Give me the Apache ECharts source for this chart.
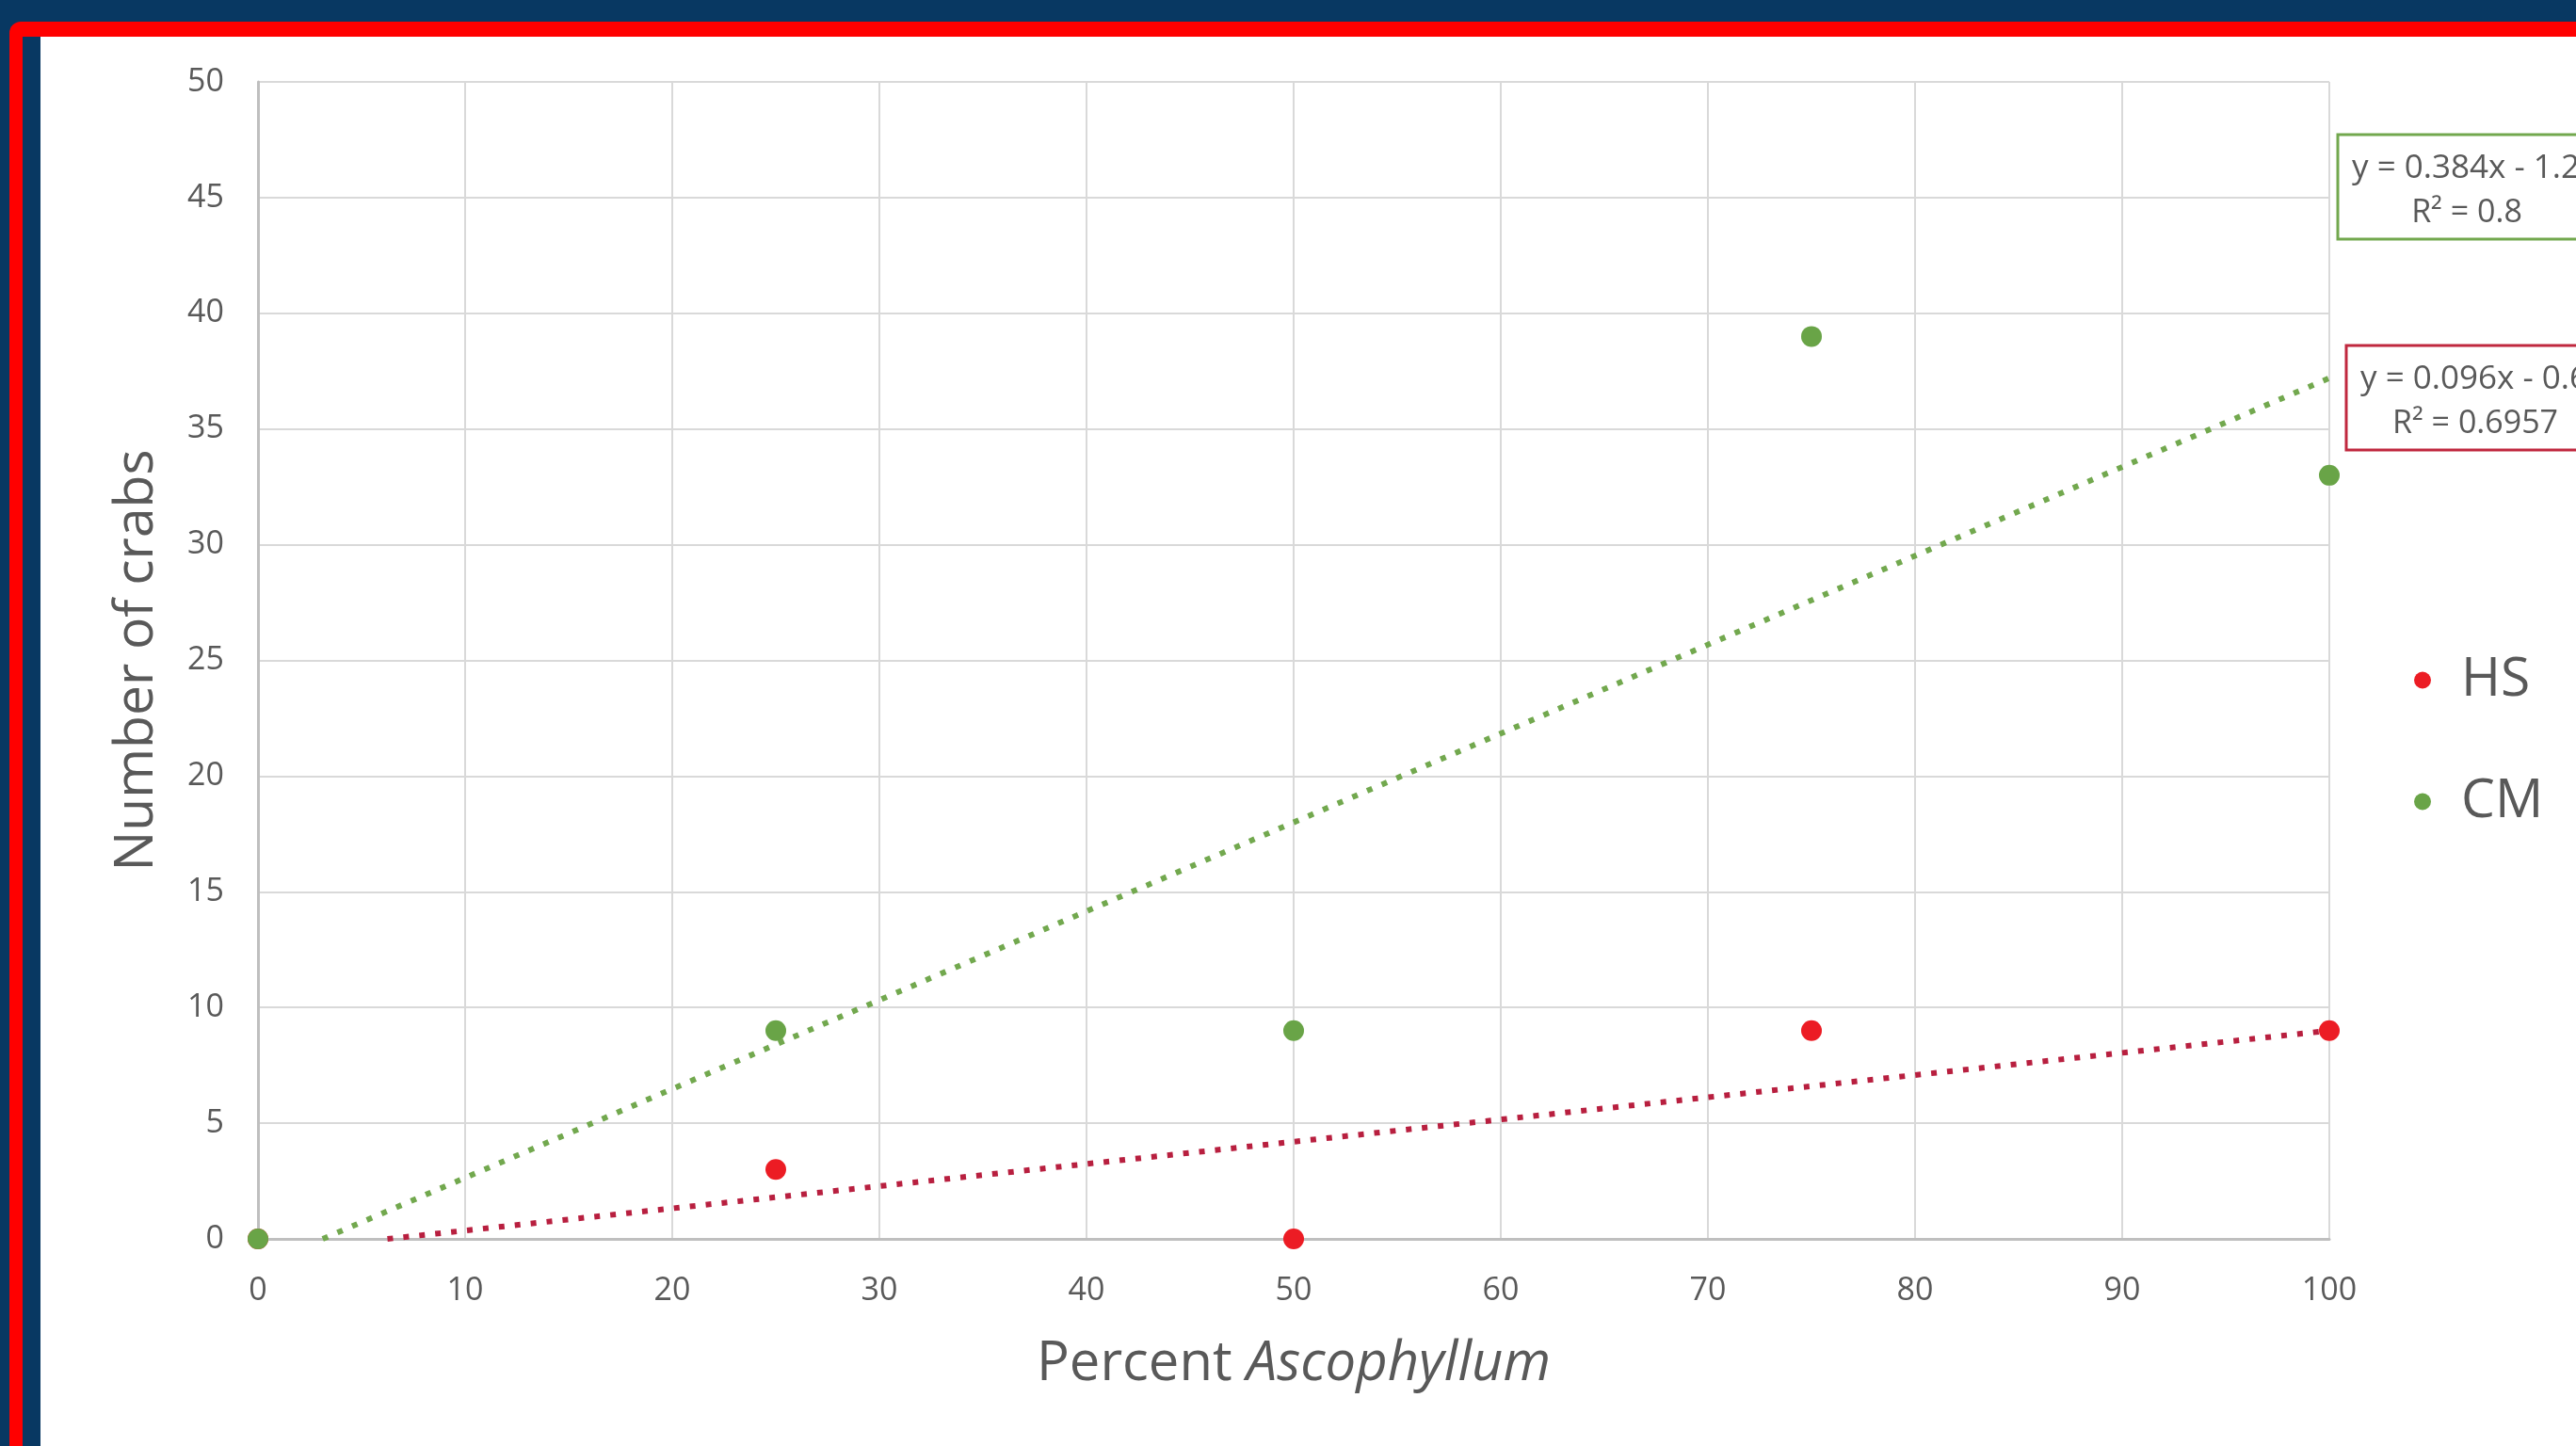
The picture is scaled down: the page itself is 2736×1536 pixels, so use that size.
<!DOCTYPE html>
<html>
<head>
<meta charset="utf-8">
<title>Crabs vs Percent Ascophyllum</title>
<script src="https://cdn.jsdelivr.net/npm/echarts@6/dist/echarts.min.js"></script>
<style>
  html, body { margin: 0; padding: 0; }
  body { width: 2736px; height: 1536px; overflow: hidden; background: #083862; position: relative; }
  .frame { position: absolute; left: 10px; top: 23px; right: -40px; bottom: -40px; background: #ff0000; border-top-left-radius: 12px; }
  .inset { position: absolute; left: 24px; top: 39px; right: -40px; bottom: -40px; background: #083862; }
  .panel { position: absolute; left: 43px; top: 39px; right: -40px; bottom: -40px; background: #ffffff; }
  #chart { position: absolute; left: 0; top: 0; width: 2736px; height: 1536px; }
</style>
</head>
<body>
<div class="frame"></div>
<div class="inset"></div>
<div class="panel"></div>
<div id="chart"></div>
<script>
// Crab counts at each percentage of Ascophyllum cover
const xPercent = [0, 25, 50, 75, 100];
const hsCrabs = [0, 3, 0, 9, 9];
const cmCrabs = [0, 9, 9, 39, 33];

const seriesNames = ['HS', 'CM'];
const xTicks = { min: 0, max: 100, interval: 10 };
const yTicks = { min: 0, max: 50, interval: 5 };

const FONT = '"Open Sans", "Noto Sans", sans-serif';
const TEXT = '#595959';
const HS_POINT = '#ec1c24';
const HS_TREND = '#b81f3f';
const CM_POINT = '#69a447';
const CM_TREND = '#72a84e';

// Ordinary least-squares fit with coefficient of determination
function linearFit(xs, ys) {
  const n = xs.length;
  const mx = xs.reduce((a, v) => a + v, 0) / n;
  const my = ys.reduce((a, v) => a + v, 0) / n;
  let sxy = 0, sxx = 0, syy = 0;
  for (let i = 0; i < n; i++) {
    sxy += (xs[i] - mx) * (ys[i] - my);
    sxx += (xs[i] - mx) ** 2;
    syy += (ys[i] - my) ** 2;
  }
  const m = sxy / sxx;
  const b = my - m * mx;
  return { m, b, r2: (sxy * sxy) / (sxx * syy) };
}

function fmt(v) { return String(parseFloat(v.toFixed(4))); }

function equation(fit) {
  return 'y = ' + fmt(fit.m) + 'x ' + (fit.b < 0 ? '- ' : '+ ') + fmt(Math.abs(fit.b));
}

// Trend segment clipped to the visible value range (starts where it crosses y = 0)
function trendSegment(fit) {
  const x0 = Math.max(xTicks.min, (yTicks.min - fit.b) / fit.m);
  const x1 = xTicks.max;
  return [[x0, fit.m * x0 + fit.b], [x1, fit.m * x1 + fit.b]];
}

const hsFit = linearFit(xPercent, hsCrabs);
const cmFit = linearFit(xPercent, cmCrabs);

const pairs = ys => xPercent.map((x, i) => [x, ys[i]]);

function eqBox(top, left, stroke, fit, textLeft) {
  return {
    type: 'group',
    z: 50,
    children: [
      {
        type: 'rect',
        shape: { x: left, y: top, width: 290, height: 111 },
        style: { fill: '#ffffff', stroke: stroke, lineWidth: 3 }
      },
      {
        type: 'text',
        style: {
          x: textLeft, y: top + 36,
          text: equation(fit),
          fontSize: 35, fontFamily: FONT, fill: TEXT,
          textAlign: 'left', textVerticalAlign: 'middle'
        }
      },
      {
        type: 'text',
        style: {
          x: textLeft + 122, y: top + 83,
          text: 'R\u00B2 = ' + fmt(fit.r2),
          fontSize: 34, fontFamily: FONT, fill: TEXT,
          textAlign: 'center', textVerticalAlign: 'middle'
        }
      }
    ]
  };
}

const chart = echarts.init(document.getElementById('chart'), null, { renderer: 'canvas' });

chart.setOption({
  animation: false,
  backgroundColor: 'transparent',
  grid: { left: 274, right: 262, top: 87, bottom: 220, containLabel: false },
  xAxis: {
    type: 'value',
    min: xTicks.min, max: xTicks.max, interval: xTicks.interval,
    name: '{n|Percent }{i|Ascophyllum}',
    nameLocation: 'middle',
    nameGap: 104,
    nameTextStyle: {
      rich: {
        n: { fontSize: 58, fontFamily: FONT, color: TEXT },
        i: { fontSize: 58, fontFamily: FONT, color: TEXT, fontStyle: 'italic' }
      }
    },
    axisLine: { show: true, onZero: false, lineStyle: { color: '#bfbfbf', width: 3 } },
    axisTick: { show: false },
    axisLabel: { margin: 38, fontSize: 34, fontFamily: FONT, color: TEXT },
    splitLine: { show: true, lineStyle: { color: '#d9d9d9', width: 2 } }
  },
  yAxis: {
    type: 'value',
    min: yTicks.min, max: yTicks.max, interval: yTicks.interval,
    name: 'Number of crabs',
    nameLocation: 'middle',
    nameGap: 100,
    nameTextStyle: { fontSize: 57, fontFamily: FONT, color: TEXT },
    axisLine: { show: true, lineStyle: { color: '#bfbfbf', width: 3 } },
    axisTick: { show: false },
    axisLabel: { margin: 36, fontSize: 34, fontFamily: FONT, color: TEXT },
    splitLine: { show: true, lineStyle: { color: '#d9d9d9', width: 2 } }
  },
  legend: {
    data: seriesNames,
    orient: 'vertical',
    left: 2559,
    top: 689,
    icon: 'circle',
    itemWidth: 72,
    itemHeight: 18,
    itemGap: 72,
    textStyle: { fontSize: 57, lineHeight: 56, fontFamily: FONT, color: TEXT }
  },
  graphic: {
    elements: [
      eqBox(143, 2483, CM_TREND, cmFit, 2498),
      eqBox(367, 2492, '#c0283f', hsFit, 2507)
    ]
  },
  series: [
    {
      name: 'HS trend',
      type: 'line',
      data: trendSegment(hsFit),
      showSymbol: false,
      silent: true,
      z: 3,
      lineStyle: { color: HS_TREND, width: 6, type: [6, 11], cap: 'butt' }
    },
    {
      name: 'CM trend',
      type: 'line',
      data: trendSegment(cmFit),
      showSymbol: false,
      silent: true,
      z: 3,
      lineStyle: { color: CM_TREND, width: 6, type: [6, 11], cap: 'butt' }
    },
    {
      name: 'HS',
      type: 'scatter',
      data: pairs(hsCrabs),
      symbol: 'circle',
      symbolSize: 22,
      z: 4,
      itemStyle: { color: HS_POINT, opacity: 1 }
    },
    {
      name: 'CM',
      type: 'scatter',
      data: pairs(cmCrabs),
      symbol: 'circle',
      symbolSize: 22,
      z: 5,
      itemStyle: { color: CM_POINT, opacity: 1 }
    }
  ]
});
</script>
</body>
</html>
